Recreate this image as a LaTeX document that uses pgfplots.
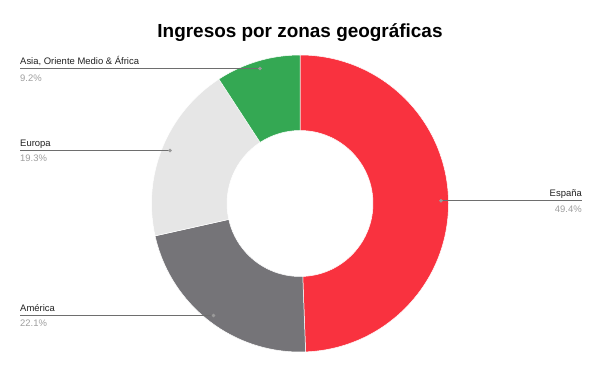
\documentclass[border=0pt]{standalone}
\usepackage{pgfplots}
\pgfplotsset{compat=1.18}
\usetikzlibrary{calc}
\usepackage{fontspec}
\setmainfont{Liberation Sans}
\definecolor{cEs}{HTML}{F9323F}
\definecolor{cAm}{HTML}{757478}
\definecolor{cEu}{HTML}{E6E6E6}
\definecolor{cAs}{HTML}{34A853}
\definecolor{cLab}{HTML}{222222}
\definecolor{cPct}{HTML}{9E9E9E}
\definecolor{cLine}{HTML}{6E6E6E}
\definecolor{cDot}{HTML}{9A9A9A}
% shares (percent): Espana, America, Europa, Asia/OM/Africa
\def\pEs{49.4}
\def\pAm{22.1}
\def\pEu{19.3}
\def\pAs{9.2}
\pgfmathsetmacro\aA{90}
\pgfmathsetmacro\aB{\aA-\pEs*3.6}
\pgfmathsetmacro\aC{\aB-\pAm*3.6}
\pgfmathsetmacro\aD{\aC-\pEu*3.6}
\pgfmathsetmacro\aE{\aD-\pAs*3.6}
\def\Ro{148.5bp}
\def\Ri{73bp}
\newcommand{\donutwedge}[3]{%
  \fill[#1, draw=white, line width=0.5bp] ($(axis cs:300,167.5)+(#2:\Ro)$)
    arc[start angle=#2, end angle=#3, radius=\Ro]
    -- ($(axis cs:300,167.5)+(#3:\Ri)$)
    arc[start angle=#3, end angle=#2, radius=\Ri] -- cycle;}
\begin{document}
\begin{tikzpicture}
\begin{axis}[hide axis, scale only axis, width=600bp, height=371bp,
  xmin=0, xmax=600, ymin=0, ymax=371, clip=false]
\path (axis cs:0,0) rectangle (axis cs:600,371);
\donutwedge{cEs}{\aA}{\aB}
\donutwedge{cAm}{\aB}{\aC}
\donutwedge{cEu}{\aC}{\aD}
\donutwedge{cAs}{\aD}{\aE}
% leader lines
\addplot[cLine, line width=0.8bp] coordinates {(20,302.5) (260,302.5)};
\addplot[cLine, line width=0.8bp] coordinates {(20,220.5) (170,220.5)};
\addplot[cLine, line width=0.8bp] coordinates {(20,55.5) (213.5,55.5)};
\addplot[cLine, line width=0.8bp] coordinates {(441,170.2) (582,170.2)};
\addplot[only marks, mark=*, mark size=1.6bp, cDot, mark options={draw=cDot, fill=cDot}]
  coordinates {(260,302.5) (170,220.5) (213.5,55.5) (441,170.2)};
% labels
\tikzset{lab/.style={inner sep=0pt, font=\fontsize{9.5}{11}\selectfont, text=cLab},
         pct/.style={inner sep=0pt, font=\fontsize{9.5}{11}\selectfont, text=cPct}}
\node[lab, anchor=base west] at (axis cs:20,306.3) {Asia, Oriente Medio \& África};
\node[pct, anchor=base west] at (axis cs:20,289.3) {9.2\%};
\node[lab, anchor=base west] at (axis cs:20,224.3) {Europa};
\node[pct, anchor=base west] at (axis cs:20,209.3) {19.3\%};
\node[lab, anchor=base west] at (axis cs:20,59.3) {América};
\node[pct, anchor=base west] at (axis cs:20,44.3) {22.1\%};
\node[lab, anchor=base east] at (axis cs:582,175) {España};
\node[pct, anchor=base east] at (axis cs:582,158.7) {49.4\%};
\node[inner sep=0pt, anchor=base, font=\fontsize{19}{22}\selectfont\bfseries, text=black]
  at (axis cs:300,333.5) {Ingresos por zonas geográficas};
\end{axis}
\end{tikzpicture}
\end{document}
